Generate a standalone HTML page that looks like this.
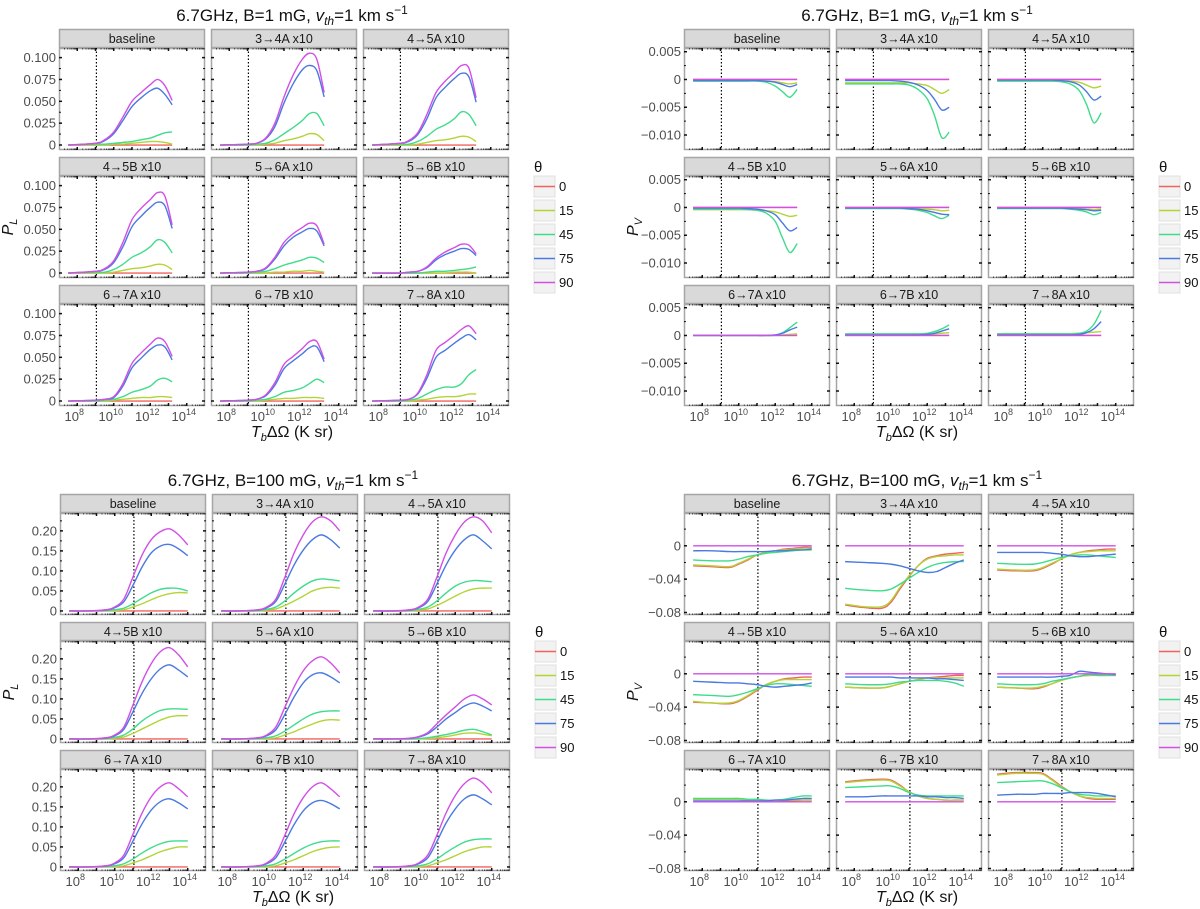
<!DOCTYPE html>
<html><head><meta charset="utf-8"><style>
html,body{margin:0;padding:0;background:#fff;}
svg{display:block;font-family:"Liberation Sans","DejaVu Sans",sans-serif;}
</style></head><body>
<svg id="fig" width="1200" height="909" viewBox="0 0 1200 909" xmlns="http://www.w3.org/2000/svg"></svg>
<script>
// ---------- data ----------
const facetNames = ["baseline","3\u21924A x10","4\u21925A x10","4\u21925B x10","5\u21926A x10","5\u21926B x10","6\u21927A x10","6\u21927B x10","7\u21928A x10"];
const thetaLabels = ["0","15","45","75","90"];
const topX = [7.5, 9, 9.5, 10, 10.5, 11, 11.5, 12, 12.4, 12.8, 13.2];
const botX = [7.5, 8.5, 9.5, 10, 10.5, 11, 11.5, 12, 12.5, 13, 13.5, 14];
const zeroTop = [0,0,0,0,0,0,0,0,0,0,0];
const zeroBot = [0,0,0,0,0,0,0,0,0,0,0,0];

// Top-left: P_L, B=1 mG
const tl90 = [
 [0,.002,.006,.015,.032,.05,.06,.069,.075,.068,.051],
 [0,.001,.002,.008,.025,.055,.08,.098,.105,.098,.06],
 [0,.002,.005,.014,.035,.06,.073,.083,.091,.088,.054],
 [0,.002,.005,.014,.035,.061,.074,.084,.092,.088,.055],
 [0,.001,.002,.006,.018,.035,.045,.052,.057,.054,.033],
 [0,0,.001,.002,.007,.017,.024,.029,.033,.032,.022],
 [0,.001,.002,.005,.02,.043,.055,.065,.072,.068,.051],
 [0,.001,.002,.007,.021,.042,.051,.06,.068,.068,.048],
 [0,.001,.002,.009,.03,.058,.067,.075,.082,.086,.077]];
const tl75 = [
 [0,.002,.005,.013,.028,.044,.054,.062,.065,.058,.046],
 [0,.001,.002,.007,.021,.048,.07,.086,.091,.085,.055],
 [0,.002,.004,.012,.03,.054,.066,.076,.082,.078,.049],
 [0,.002,.004,.012,.03,.053,.065,.075,.081,.077,.051],
 [0,.001,.002,.005,.016,.031,.041,.047,.051,.048,.031],
 [0,0,.001,.002,.006,.015,.021,.025,.028,.027,.02],
 [0,.001,.002,.004,.017,.038,.049,.059,.064,.062,.047],
 [0,.001,.002,.006,.018,.037,.046,.054,.061,.062,.045],
 [0,.001,.002,.008,.026,.05,.058,.066,.072,.076,.07]];
const tl45 = [
 [0,.001,.001,.002,.003,.004,.006,.008,.011,.014,.015],
 [0,0,.001,.002,.006,.013,.02,.028,.036,.036,.022],
 [0,.001,.001,.004,.01,.018,.023,.03,.038,.035,.022],
 [0,.001,.001,.004,.01,.018,.023,.03,.038,.035,.023],
 [0,0,.001,.002,.005,.009,.012,.015,.018,.017,.012],
 [0,0,0,0,.001,.002,.002,.003,.004,.005,.007],
 [0,0,.001,.002,.005,.01,.013,.017,.024,.026,.022],
 [0,0,.001,.002,.005,.01,.012,.015,.02,.025,.021],
 [0,0,.001,.003,.008,.013,.016,.016,.02,.03,.036]];
const tl15 = [
 [0,0,0,.001,.001,.002,.003,.004,.004,.003,.001],
 [0,0,0,.001,.002,.005,.007,.01,.013,.012,.005],
 [0,0,0,.001,.003,.005,.006,.008,.01,.009,.004],
 [0,0,0,.001,.003,.005,.006,.008,.01,.009,.004],
 [0,0,0,0,.001,.001,.002,.002,.003,.002,.001],
 [0,0,0,0,0,0,0,.001,.001,.001,0],
 [0,0,0,.001,.002,.003,.004,.004,.005,.005,.004],
 [0,0,0,.001,.002,.003,.003,.004,.004,.004,.003],
 [0,0,0,.001,.002,.004,.005,.005,.006,.008,.008]];

// Top-right: P_V, B=1 mG (units of 1e-3)
const tr45 = [
 [-.3,-.3,-.3,-.3,-.3,-.3,-.5,-1.2,-2.2,-3.2,-1.8],
 [-.8,-.8,-.8,-.8,-.8,-1,-1.8,-3.5,-6.5,-10.5,-9.5],
 [-.3,-.3,-.3,-.3,-.3,-.4,-.8,-2,-4.5,-7.8,-6],
 [-.3,-.3,-.3,-.3,-.4,-.5,-1,-2.5,-5.5,-8.1,-6.5],
 [-.2,-.2,-.2,-.2,-.2,-.3,-.5,-.9,-1.5,-2,-1.4],
 [-.2,-.2,-.2,-.2,-.2,-.2,-.3,-.5,-.8,-1.3,-.9],
 [0,0,0,0,0,0,0,.1,.5,1.4,2.4],
 [.3,.3,.3,.3,.3,.3,.3,.4,.7,1.2,1.9],
 [.3,.3,.3,.3,.3,.3,.3,.4,.8,2,4.5]];
const tr75 = [
 [-.2,-.2,-.2,-.2,-.2,-.2,-.3,-.5,-.9,-1.3,-.9],
 [-.2,-.2,-.2,-.2,-.3,-.5,-1,-2,-3.6,-5.5,-5],
 [-.1,-.1,-.1,-.1,-.1,-.2,-.4,-1,-2.2,-3.7,-3],
 [-.1,-.1,-.1,-.1,-.2,-.3,-.6,-1.3,-2.8,-4.2,-3.6],
 [-.1,-.1,-.1,-.1,-.1,-.2,-.3,-.6,-.9,-1.2,-1.3],
 [-.1,-.1,-.1,-.1,-.1,-.1,-.2,-.3,-.4,-.6,-.5],
 [0,0,0,0,0,0,0,.1,.4,1,1.5],
 [.1,.1,.1,.1,.1,.1,.1,.2,.4,.8,1.2],
 [.1,.1,.1,.1,.1,.1,.1,.2,.5,1.2,2.5]];
const tr15 = [
 [-.2,-.2,-.2,-.2,-.2,-.2,-.3,-.4,-.6,-.8,-.6],
 [-.6,-.6,-.6,-.6,-.6,-.6,-.8,-1.1,-1.8,-2.5,-1.8],
 [-.1,-.1,-.1,-.1,-.1,-.2,-.3,-.5,-1,-1.5,-1.2],
 [-.4,-.4,-.4,-.4,-.4,-.5,-.6,-.8,-1.2,-1.6,-1.4],
 [-.1,-.1,-.1,-.1,-.1,-.1,-.2,-.3,-.4,-.6,-.5],
 [-.1,-.1,-.1,-.1,-.1,-.1,-.1,-.2,-.3,-.4,-.3],
 [0,0,0,0,0,0,0,0,.1,.2,.3],
 [.2,.2,.2,.2,.2,.2,.2,.2,.3,.4,.5],
 [.3,.3,.3,.3,.3,.3,.3,.4,.5,.6,.7]];

// Bottom-left: P_L, B=100 mG
const bl90 = [
 [0,0,.003,.01,.03,.085,.14,.178,.198,.205,.19,.165],
 [0,0,.003,.01,.03,.085,.145,.19,.222,.235,.225,.2],
 [0,0,.003,.01,.03,.085,.145,.19,.222,.235,.225,.195],
 [0,0,.003,.01,.03,.085,.143,.188,.218,.228,.21,.18],
 [0,0,.003,.01,.03,.08,.13,.17,.195,.205,.19,.165],
 [0,0,.002,.006,.016,.038,.06,.08,.1,.11,.1,.085],
 [0,0,.003,.01,.03,.082,.135,.175,.2,.21,.195,.175],
 [0,0,.003,.01,.03,.08,.133,.173,.2,.21,.195,.175],
 [0,0,.003,.01,.03,.08,.135,.178,.208,.222,.21,.185]];
const bl75 = [
 [0,0,.002,.008,.023,.064,.11,.145,.162,.166,.155,.138],
 [0,0,.002,.008,.024,.068,.115,.152,.178,.19,.178,.157],
 [0,0,.002,.008,.024,.068,.115,.152,.178,.19,.175,.155],
 [0,0,.002,.008,.024,.068,.114,.15,.175,.185,.172,.155],
 [0,0,.002,.008,.023,.062,.105,.14,.16,.165,.155,.14],
 [0,0,.001,.005,.013,.03,.05,.066,.082,.09,.082,.07],
 [0,0,.002,.008,.023,.065,.108,.142,.163,.17,.16,.145],
 [0,0,.002,.008,.023,.063,.106,.14,.16,.166,.158,.145],
 [0,0,.002,.008,.023,.064,.11,.145,.17,.18,.17,.155]];
const bl45 = [
 [0,0,.001,.003,.007,.018,.032,.045,.054,.057,.056,.05],
 [0,0,.001,.004,.01,.025,.045,.062,.075,.08,.078,.075],
 [0,0,.001,.004,.01,.025,.045,.062,.072,.076,.075,.073],
 [0,0,.001,.004,.01,.025,.045,.06,.071,.075,.075,.074],
 [0,0,.001,.003,.008,.02,.035,.05,.062,.068,.07,.07],
 [0,0,0,.001,.003,.007,.011,.016,.022,.024,.018,.01],
 [0,0,.001,.003,.008,.02,.035,.048,.058,.064,.065,.065],
 [0,0,.001,.003,.008,.02,.034,.047,.057,.063,.065,.065],
 [0,0,.001,.003,.008,.02,.036,.05,.062,.068,.07,.07]];
const bl15 = [
 [0,0,0,.001,.003,.01,.018,.028,.037,.043,.046,.045],
 [0,0,0,.002,.005,.014,.025,.037,.05,.057,.059,.057],
 [0,0,0,.002,.005,.014,.025,.037,.048,.055,.057,.057],
 [0,0,0,.002,.005,.014,.025,.036,.047,.055,.058,.058],
 [0,0,0,.001,.003,.01,.018,.028,.037,.045,.048,.047],
 [0,0,0,0,.001,.003,.006,.01,.014,.015,.012,.008],
 [0,0,0,.001,.003,.01,.018,.028,.038,.045,.05,.05],
 [0,0,0,.001,.003,.01,.018,.028,.038,.045,.049,.05],
 [0,0,0,.001,.003,.01,.018,.028,.038,.045,.05,.05]];

// Bottom-right: P_V, B=100 mG (units of 1e-3)
const br0 = [
 [-24,-25,-26,-22,-17,-11,-8,-6,-4,-3,-2,-2],
 [-71,-74,-75,-68,-52,-37,-24,-15,-12,-10,-9,-8],
 [-29,-30,-30,-27,-22,-16,-11,-8,-6,-5,-4,-4],
 [-34,-35,-36,-33,-27,-20,-13,-9,-6,-5,-4,-4],
 [-16,-17,-17,-15,-12,-9,-7,-5,-4,-3,-2,-2],
 [-16,-17,-18,-16,-12,-8,-5,-3,-2,-1,-1,-1],
 [3,3,3,3,2,2,1,1,1,1,2,2],
 [24,26,27,26,20,12,7,4,3,2,2,2],
 [33,35,35,34,27,19,12,7,4,3,3,3]];
const br15 = [
 [-23,-24,-25,-21,-16,-11,-8,-6,-5,-4,-3,-3],
 [-70,-73,-73,-66,-50,-36,-24,-16,-13,-12,-11,-11],
 [-28,-29,-29,-26,-21,-16,-11,-8,-7,-6,-6,-6],
 [-33,-35,-35,-32,-26,-19,-13,-9,-7,-7,-7,-7],
 [-16,-17,-17,-15,-12,-9,-7,-5,-5,-5,-5,-5],
 [-16,-17,-17,-15,-12,-8,-5,-3,-2,-2,-2,-2],
 [3,3,3,3,2,2,1,1,2,2,2,2],
 [23,25,26,25,19,12,7,4,3,2,2,2],
 [32,34,34,33,26,18,12,7,5,4,4,4]];
const br45 = [
 [-17,-18,-18,-16,-13,-11,-9,-8,-7,-6,-5,-5],
 [-51,-53,-54,-52,-46,-39,-32,-26,-22,-20,-19,-19],
 [-21,-22,-22,-20,-17,-14,-12,-11,-11,-12,-13,-14],
 [-25,-26,-27,-25,-22,-18,-14,-12,-12,-13,-14,-15],
 [-12,-13,-13,-12,-10,-9,-8,-8,-8,-9,-11,-15],
 [-12,-13,-13,-12,-9,-7,-5,-3,-1,-2,-2,-2],
 [4,4,4,4,3,3,2,2,3,5,7,7],
 [17,18,19,19,16,11,8,7,7,7,7,7],
 [23,24,25,25,22,17,12,9,8,7,7,7]];
const br75 = [
 [-6,-6,-7,-7,-7,-7,-7,-6,-6,-5,-5,-4],
 [-19,-20,-21,-22,-24,-27,-30,-32,-31,-26,-21,-17],
 [-8,-8,-8,-8,-9,-10,-12,-13,-13,-12,-11,-10],
 [-9,-10,-11,-11,-12,-13,-15,-16,-15,-14,-13,-11],
 [-4,-4,-4,-4,-5,-5,-5,-5,-6,-6,-7,-8],
 [-4,-4,-4,-4,-4,-3,-2,3,2,1,0,-1],
 [1,1,1,1,1,1,1,2,2,3,4,4],
 [6,6,7,7,7,7,7,6,6,5,5,4],
 [8,9,9,10,10,10,11,11,11,10,8,6]];

// ---------- rendering ----------
const colors = ["#f0625d","#b3d435","#3fdc8b","#4a79e0","#d24fe6"];
const svg = document.getElementById('fig');
const NS = "http://www.w3.org/2000/svg";
function mk(tag, attrs, parent){
  const e = document.createElementNS(NS, tag);
  for (const k in attrs) e.setAttribute(k, attrs[k]);
  (parent||svg).appendChild(e);
  return e;
}
function smooth(pts){
  let d = "M"+pts[0][0].toFixed(2)+","+pts[0][1].toFixed(2);
  for (let i=0;i<pts.length-1;i++){
    const p0=pts[Math.max(0,i-1)], p1=pts[i], p2=pts[i+1], p3=pts[Math.min(pts.length-1,i+2)];
    const c1=[p1[0]+(p2[0]-p0[0])/6, p1[1]+(p2[1]-p0[1])/6];
    const c2=[p2[0]-(p3[0]-p1[0])/6, p2[1]-(p3[1]-p1[1])/6];
    d += " C"+c1[0].toFixed(2)+","+c1[1].toFixed(2)+" "+c2[0].toFixed(2)+","+c2[1].toFixed(2)+" "+p2[0].toFixed(2)+","+p2[1].toFixed(2);
  }
  return d;
}
const colLefts = [0,152,304];
const rowTops = [0,128,256];
const FW = 146, SH = 19, PH = 102;

function panel(cfg){
  const g = mk('g', {});
  
  
  const t = mk('text', {x: cfg.ox + 233, y: cfg.oy - 8, 'text-anchor':'middle', 'font-size':17, fill:'#111'}, g);
  
  
  t.innerHTML = cfg.title + ' <tspan font-style="italic">v</tspan><tspan font-style="italic" font-size="12" dy="4">th</tspan><tspan dy="-4">=1 km s</tspan><tspan font-size="12" dy="-7">\u22121</tspan>';
  const xs = cfg.xs;
  for (let f=0; f<9; f++){
    const L = cfg.ox + colLefts[f%3], T = cfg.oy + rowTops[Math.floor(f/3)];
    const PT = T + SH, PB = PT + PH;
    const fx = v => L + (v-7)/8*FW;
    const fy = v => PB - (v - cfg.ymin)/(cfg.ymax-cfg.ymin)*PH;
    const fg = mk('g', {}, g);
    
    
    const strip = mk('rect', {x:L+0.5, y:T+0.5, width:FW-1, height:SH-1, fill:'#d9d9d9', stroke:'#a6a6a6', 'stroke-width':1.5}, fg);
    
    
    const st = mk('text', {x:L+FW/2, y:T+14, 'text-anchor':'middle', 'font-size':12.5, fill:'#1a1a1a'}, fg);
    
    
    st.textContent = facetNames[f];
    const box = mk('rect', {x:L+0.5, y:PT+0.5, width:FW-1, height:PH-1, fill:'#fff', stroke:'#a6a6a6', 'stroke-width':1.5}, fg);
    
    
    for (let dec=7; dec<15; dec++){
      if (dec>7){
        mk('line',{x1:fx(dec),x2:fx(dec),y1:PB,y2:PB-3,stroke:'#111','stroke-width':1.5},fg);
        mk('line',{x1:fx(dec),x2:fx(dec),y1:PT,y2:PT+3,stroke:'#111','stroke-width':1.5},fg);
      }
      for (let m=2;m<10;m++){
        const xx = fx(dec+Math.log10(m));
        mk('line',{x1:xx,x2:xx,y1:PB,y2:PB-1.5,stroke:'#222','stroke-width':0.8},fg);
        mk('line',{x1:xx,x2:xx,y1:PT,y2:PT+1.5,stroke:'#222','stroke-width':0.8},fg);
      }
    }
    cfg.yticks.forEach((v,i)=>{
      const yy = fy(v);
      mk('line',{x1:L,x2:L+3,y1:yy,y2:yy,stroke:'#111','stroke-width':1.5},fg);
      mk('line',{x1:L+FW,x2:L+FW-3,y1:yy,y2:yy,stroke:'#111','stroke-width':1.5},fg);
      if (f%3===0){
        const tl = mk('text',{x:L-3,y:yy+4.5,'text-anchor':'end','font-size':13,fill:'#4d4d4d'},fg);
        
        
        tl.textContent = cfg.ylabels[i];
      }
    });
    cfg.yminor.forEach(v=>{
      const yy = fy(v);
      mk('line',{x1:L,x2:L+2,y1:yy,y2:yy,stroke:'#111','stroke-width':1},fg);
      mk('line',{x1:L+FW,x2:L+FW-2,y1:yy,y2:yy,stroke:'#111','stroke-width':1},fg);
    });
    const dl = mk('line',{x1:fx(cfg.vline),x2:fx(cfg.vline),y1:PT,y2:PB,stroke:'#000','stroke-width':1.2,'stroke-dasharray':'1.5,2'},fg);
    
    
    cfg.series.forEach((arr,si)=>{
      const vals = arr[f];
      const pts = xs.map((xv,k)=>[fx(xv), fy(vals[k]*cfg.scale)]);
      const p = mk('path',{d:smooth(pts),fill:'none',stroke:colors[si],'stroke-width':1.4},fg);
      
      
    });
    if (f>=6){
      [8,10,12,14].forEach(dec=>{
        const tx = mk('text',{x:fx(dec)-3,y:PB+15,'text-anchor':'middle','font-size':13,fill:'#4d4d4d'},fg);
        
        
        tx.innerHTML = '10<tspan font-size="9" dy="-6">'+dec+'</tspan>';
      });
    }
  }
  const xt = mk('text',{x:cfg.ox+233,y:cfg.oy+408,'text-anchor':'middle','font-size':16,fill:'#111'},g);
  
  
  xt.innerHTML = '<tspan font-style="italic">T</tspan><tspan font-style="italic" font-size="11" dy="4">b</tspan><tspan dy="-4">\u0394\u03a9 (K sr)</tspan>';
  const yt = mk('text',{x:0,y:0,'text-anchor':'middle','font-size':16,fill:'#111',transform:'translate('+(cfg.ox-46)+','+(cfg.oy+198)+') rotate(-90)'},g);
  
  
  yt.innerHTML = '<tspan font-style="italic">P</tspan><tspan font-style="italic" font-size="11" dy="4">'+cfg.ysub+'</tspan>';
  const lg = mk('g',{},g);
  
  
  const lx = cfg.ox + 475;
  const th = mk('text',{x:lx,y:cfg.oy+143,'font-size':15,fill:'#111'},lg);
  
  
  th.textContent = '\u03b8';
  thetaLabels.forEach((lab,i)=>{
    const yy = cfg.oy + 147 + i*24;
    const e = mk('g',{},lg);
    
    
    mk('rect',{x:lx,y:yy,width:21,height:21,fill:'#f2f2f2',stroke:'#e0e0e0','stroke-width':1},e);
    mk('line',{x1:lx,x2:lx+21,y1:yy+10.5,y2:yy+10.5,stroke:colors[i],'stroke-width':1.5},e);
    const tx = mk('text',{x:lx+25,y:yy+15,'font-size':13,fill:'#111'},e);
    tx.textContent = lab;
  });
}

const repTop = [zeroTop,zeroTop,zeroTop,zeroTop,zeroTop,zeroTop,zeroTop,zeroTop,zeroTop];
const repBot = [zeroBot,zeroBot,zeroBot,zeroBot,zeroBot,zeroBot,zeroBot,zeroBot,zeroBot];

panel({name:'panel-pl-b1', ox:59, oy:29, title:'6.7GHz, B=1 mG,', xs:topX, ymin:-0.0057, ymax:0.111, scale:1,
  yticks:[0,0.025,0.05,0.075,0.1], ylabels:["0","0.025","0.050","0.075","0.100"], yminor:[0.0125,0.0375,0.0625,0.0875],
  vline:9.05, ysub:'L', series:[repTop, tl15, tl45, tl75, tl90]});
panel({name:'panel-pv-b1', ox:684, oy:29, title:'6.7GHz, B=1 mG,', xs:topX, ymin:-0.0127, ymax:0.00567, scale:0.001,
  yticks:[0.005,0,-0.005,-0.01], ylabels:["0.005","0","\u22120.005","\u22120.010"], yminor:[0.0025,-0.0025,-0.0075],
  vline:9.05, ysub:'V', series:[repTop, tr15, tr45, tr75, repTop]});
panel({name:'panel-pl-b100', ox:60, oy:494, title:'6.7GHz, B=100 mG,', xs:botX, ymin:-0.0101, ymax:0.2446, scale:1,
  yticks:[0,0.05,0.1,0.15,0.2], ylabels:["0","0.05","0.10","0.15","0.20"], yminor:[0.025,0.075,0.125,0.175,0.225],
  vline:11.05, ysub:'L', series:[repBot, bl15, bl45, bl75, bl90]});
panel({name:'panel-pv-b100', ox:684, oy:494, title:'6.7GHz, B=100 mG,', xs:botX, ymin:-0.083, ymax:0.0393, scale:0.001,
  yticks:[0,-0.04,-0.08], ylabels:["0","\u22120.04","\u22120.08"], yminor:[0.02,-0.02,-0.06],
  vline:11.05, ysub:'V', series:[br0, br15, br45, br75, repBot]});
</script>
</body></html>
